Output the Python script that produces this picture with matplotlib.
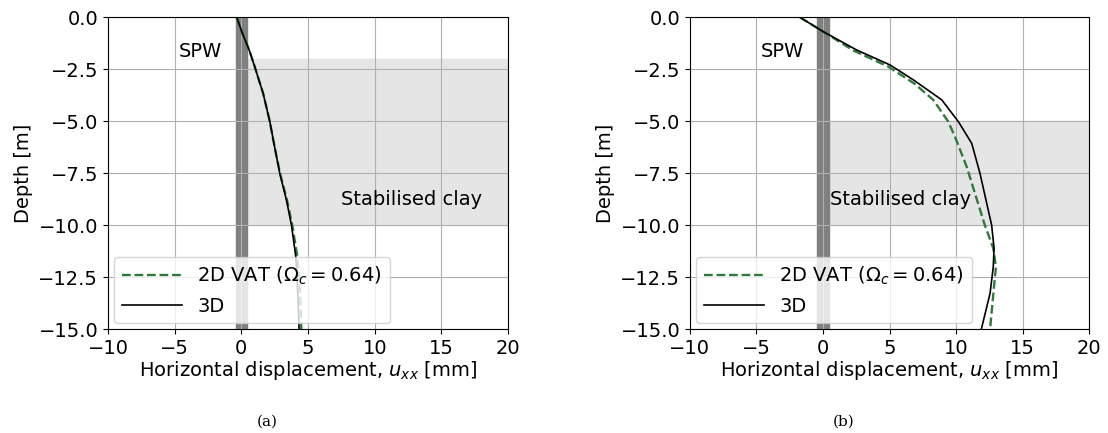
import matplotlib
matplotlib.use("Agg")
import matplotlib.pyplot as plt
import numpy as np

# panel (a): depth [m] and horizontal displacement [mm]
DEPTH_A = [0.0, 0.77, 1.6, 2.37, 3.65, 5.0, 6.25, 7.5, 8.78, 10.0, 11.5, 12.5, 13.75, 15.0]
U3D_A = [-0.35, 0.08, 0.6, 1.0, 1.63, 2.13, 2.5, 2.88, 3.38, 3.76, 4.08, 4.18, 4.26, 4.33]
U2D_A = [-0.35, 0.08, 0.6, 1.0, 1.63, 2.13, 2.5, 2.9, 3.42, 3.82, 4.2, 4.35, 4.43, 4.5]

# panel (b)
DEPTH_B3 = [0.0, 0.69, 1.57, 2.29, 3.01, 3.97, 5.02, 6.06, 7.5, 10.0, 11.1, 12.0, 13.27, 15.0]
U3D_B = [-1.73, 0.02, 2.53, 5.04, 6.8, 8.93, 10.18, 11.18, 11.8, 12.68, 12.86, 12.8, 12.56, 11.9]
DEPTH_B2 = [0.0, 0.69, 1.6, 2.37, 3.2, 3.97, 5.0, 5.74, 7.18, 8.46, 10.0, 11.1, 12.0, 13.6, 15.0]
U2D_B = [-1.73, 0.02, 2.3, 4.91, 6.9, 8.29, 9.4, 9.92, 10.8, 11.42, 12.17, 12.8, 13.0, 12.76, 12.56]

CLAY_A = (2.0, 10.0)
CLAY_B = (5.0, 10.0)
WALL_HALF = 0.42
GREEN = "#2e7a38"

plt.rcParams["font.size"] = 14

fig = plt.figure(figsize=(11.08, 4.33), dpi=100)
ax_a = fig.add_axes([0.0975, 0.2395, 0.361, 0.7205])
ax_b = fig.add_axes([0.6227, 0.2395, 0.3602, 0.7205])

panels = [
    (ax_a, CLAY_A, DEPTH_A, U2D_A, DEPTH_A, U3D_A, 7.5, "(a)", 0.241),
    (ax_b, CLAY_B, DEPTH_B2, U2D_B, DEPTH_B3, U3D_B, 0.5, "(b)", 0.761),
]

for ax, clay, d2, u2, d3, u3, clay_x, cap, cap_x in panels:
    ax.fill_between([0, 20], -clay[0], -clay[1], color="#e5e5e5", zorder=1)
    ax.fill_betweenx([0, -15], -WALL_HALF, WALL_HALF, color="#808080", zorder=1.2)
    ax.plot(u2, -np.array(d2), "--", color=GREEN, lw=1.7, label=r"2D VAT ($\Omega_c = 0.64$)", zorder=3)
    ax.plot(u3, -np.array(d3), "-", color="black", lw=1.2, label="3D", zorder=3)
    ax.text(-4.7, -1.65, "SPW", ha="left", va="center")
    ax.text(clay_x, -8.75, "Stabilised clay", ha="left", va="center")
    ax.set_xlim(-10, 20)
    ax.set_ylim(-15, 0)
    ax.set_xticks([-10, -5, 0, 5, 10, 15, 20])
    ax.set_yticks([0, -2.5, -5, -7.5, -10, -12.5, -15])
    ax.set_yticklabels([f"{v:.1f}".replace("-", "\u2212") for v in [0, -2.5, -5, -7.5, -10, -12.5, -15]])
    ax.grid(True, color="#b0b0b0", lw=0.8)
    ax.set_xlabel(r"Horizontal displacement, $u_{xx}$ [mm]", labelpad=1)
    ax.set_ylabel("Depth [m]")
    ax.legend(loc="lower left", fontsize=14, handlelength=3.1, borderaxespad=0.3)
    fig.text(cap_x, 0.01, cap, ha="center", va="bottom", fontsize=11, family="DejaVu Serif")

fig.savefig("out.png", dpi=100)
